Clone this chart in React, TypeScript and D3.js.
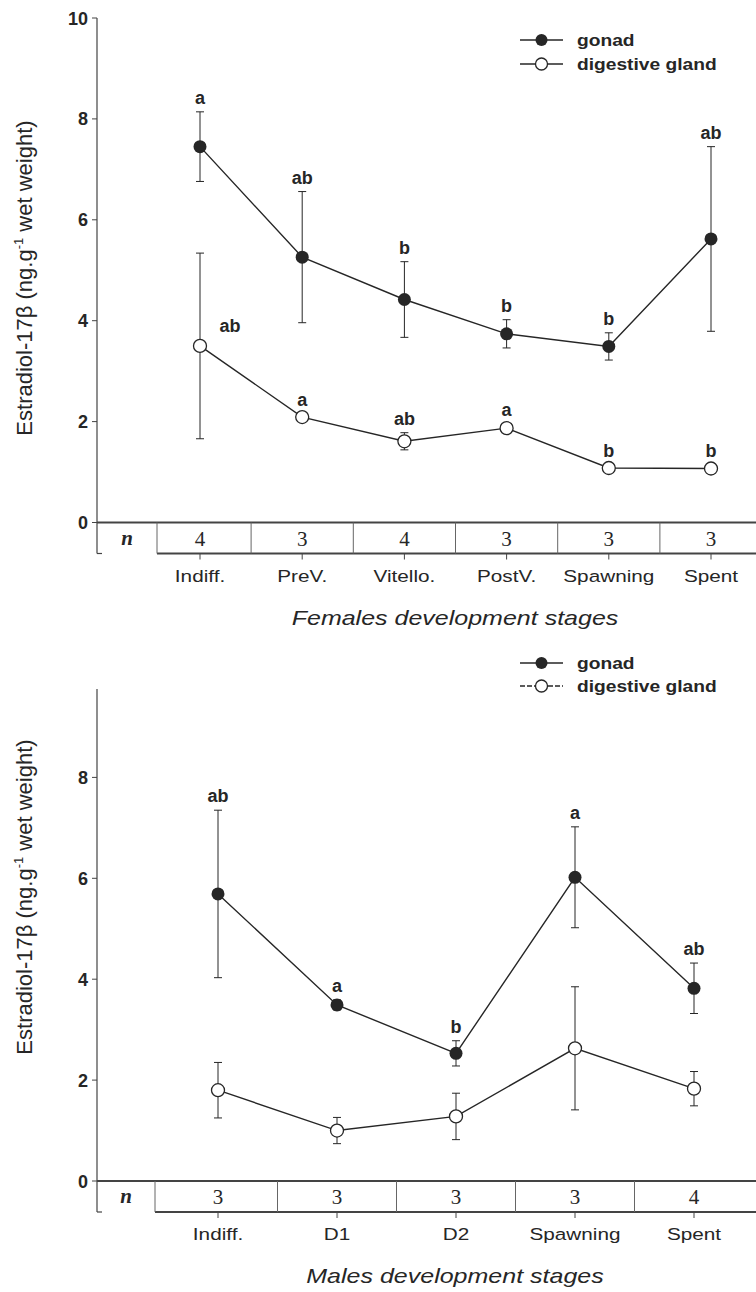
import * as d3 from "d3";

// ---- Females ----
const femaleStages = ["Indiff.", "PreV.", "Vitello.", "PostV.", "Spawning", "Spent"];
const femaleN = [4, 3, 4, 3, 3, 3];
const femaleGonad = [7.45, 5.26, 4.42, 3.74, 3.49, 5.62];
const femaleGonadErr = [0.69, 1.3, 0.75, 0.28, 0.27, 1.83];
const femaleGonadLetters = ["a", "ab", "b", "b", "b", "ab"];
const femaleGland = [3.5, 2.09, 1.61, 1.87, 1.08, 1.07];
const femaleGlandErr = [1.84, 0.07, 0.17, 0.08, 0.06, 0.06];
const femaleGlandLetters = ["ab", "a", "ab", "a", "b", "b"];
const femaleGlandLetterSide = ["right", "above", "above", "above", "above", "above"];

// ---- Males ----
const maleStages = ["Indiff.", "D1", "D2", "Spawning", "Spent"];
const maleN = [3, 3, 3, 3, 4];
const maleGonad = [5.69, 3.49, 2.53, 6.02, 3.82];
const maleGonadErr = [1.66, 0.1, 0.25, 1.0, 0.5];
const maleGonadLetters = ["ab", "a", "b", "a", "ab"];
const maleGland = [1.8, 1.0, 1.28, 2.63, 1.83];
const maleGlandErr = [0.55, 0.26, 0.46, 1.22, 0.34];
const maleGlandLetters = ["", "", "", "", ""];
const maleGlandLetterSide = ["above", "above", "above", "above", "above"];

const femaleTicks = [0, 2, 4, 6, 8, 10];
const maleTicks = [0, 2, 4, 6, 8];

const INK = "#262626";
const SANS = "'Liberation Sans', Arial, sans-serif";
const SERIF = "'Liberation Serif', 'Times New Roman', serif";
const W = 756;
const H = 1292;
const AXIS_X = 97;
const TABLE_H = 31;

function SText({ x, y, sx = 1, size, weight = "normal", italic = false, anchor = "middle", family = SANS, children }: any) {
  return (
    <text
      transform={`translate(${x},${y}) scale(${sx},1)`}
      textAnchor={anchor}
      fontSize={size}
      fontWeight={weight}
      fontStyle={italic ? "italic" : "normal"}
      fontFamily={family}
      fill={INK}
    >
      {children}
    </text>
  );
}

function Panel(p: any) {
  const { stages, nVals, gonad, gonadErr, gonadLetters, gland, glandErr, glandLetters, glandSide,
    title, y0, axisTop, ticks, xFirst, xLast, nEdge, legendY, ylabelY, dashedLegend } = p;

  const x = d3.scalePoint<string>().domain(stages).range([xFirst, xLast]);
  const y = d3.scaleLinear().domain([0, 10]).range([y0, y0 - 504.5]);
  const line = d3
    .line<number>()
    .x((_, i) => x(stages[i]) as number)
    .y((d) => y(d));

  const tableBottom = y0 + TABLE_H;
  const xs = stages.map((s: string) => x(s) as number);
  const dividers = [nEdge, ...xs.slice(1).map((v: number, i: number) => (v + xs[i]) / 2)];

  const errBars = (vals: number[], errs: number[]) =>
    vals.map((v, i) => {
      const cx = xs[i];
      const t = y(v + errs[i]);
      const b = y(v - errs[i]);
      return (
        <g key={i} stroke={INK} strokeWidth={1}>
          <line x1={cx} x2={cx} y1={t} y2={b} />
          <line x1={cx - 4} x2={cx + 4} y1={t} y2={t} />
          <line x1={cx - 4} x2={cx + 4} y1={b} y2={b} />
        </g>
      );
    });

  return (
    <g>
      {/* y axis */}
      <line x1={AXIS_X} x2={AXIS_X} y1={y(axisTop)} y2={tableBottom} stroke="#444" strokeWidth={1.2} />
      <line x1={AXIS_X} x2={AXIS_X + 5} y1={tableBottom} y2={tableBottom} stroke="#444" strokeWidth={1.2} />
      {ticks.map((t: number) => (
        <g key={t}>
          <line x1={AXIS_X - 5} x2={AXIS_X} y1={y(t)} y2={y(t)} stroke="#444" strokeWidth={1} />
          <SText x={88} y={y(t) + 6.5} size={18} weight="bold" anchor="end">{t}</SText>
        </g>
      ))}
      <text
        transform={`translate(32,${ylabelY}) rotate(-90)`}
        textAnchor="middle"
        fontSize={22}
        fontFamily={SANS}
        fill={INK}
      >
        Estradiol-17β (ng.g<tspan dy={-9} fontSize={13}>-1</tspan>
        <tspan dy={9}> wet weight)</tspan>
      </text>

      {/* n table */}
      <line x1={AXIS_X} x2={W} y1={y0} y2={y0} stroke="#444" strokeWidth={2} />
      <line x1={nEdge} x2={W} y1={tableBottom} y2={tableBottom} stroke="#444" strokeWidth={1.8} />
      {dividers.map((d: number, i: number) => (
        <line key={i} x1={d} x2={d} y1={y0} y2={tableBottom} stroke="#666" strokeWidth={1} />
      ))}
      <SText x={(AXIS_X + nEdge) / 2} y={y0 + 22} size={21} weight="bold" italic family={SERIF}>n</SText>
      {nVals.map((n: number, i: number) => (
        <SText key={i} x={xs[i]} y={y0 + 23} size={21} family={SERIF}>{n}</SText>
      ))}
      {xs.map((cx: number, i: number) => (
        <g key={i}>
          <line x1={cx} x2={cx} y1={tableBottom} y2={tableBottom + 6} stroke="#444" strokeWidth={1} />
          <SText x={cx} y={tableBottom + 28} sx={1.22} size={17}>{stages[i]}</SText>
        </g>
      ))}
      <SText x={455} y={tableBottom + 71} sx={1.22} size={20.5} italic>{title}</SText>

      {/* series */}
      <path d={line(gonad) as string} fill="none" stroke={INK} strokeWidth={1.4} />
      <path d={line(gland) as string} fill="none" stroke={INK} strokeWidth={1.4} />
      {errBars(gonad, gonadErr)}
      {errBars(gland, glandErr)}
      {gonad.map((v: number, i: number) => (
        <circle key={i} cx={xs[i]} cy={y(v)} r={6.5} fill={INK} />
      ))}
      {gland.map((v: number, i: number) => (
        <circle key={i} cx={xs[i]} cy={y(v)} r={6.5} fill="#fff" stroke={INK} strokeWidth={1.3} />
      ))}
      {gonadLetters.map((l: string, i: number) => (
        <SText key={i} x={xs[i]} y={y(gonad[i] + gonadErr[i]) - 8} size={18} weight="bold">{l}</SText>
      ))}
      {glandLetters.map((l: string, i: number) =>
        glandSide[i] === "right" ? (
          <SText key={i} x={xs[i] + 30} y={y(gland[i]) - 14} size={18} weight="bold">{l}</SText>
        ) : (
          <SText key={i} x={xs[i]} y={y(gland[i] + glandErr[i]) - 8} size={18} weight="bold">{l}</SText>
        )
      )}

      {/* legend */}
      <line x1={520} x2={563} y1={legendY[0]} y2={legendY[0]} stroke={INK} strokeWidth={1.4} />
      <circle cx={541.5} cy={legendY[0]} r={6} fill={INK} />
      <SText x={577} y={legendY[0] + 5.5} sx={1.2} size={16} weight="bold" anchor="start">gonad</SText>
      <line x1={520} x2={563} y1={legendY[1]} y2={legendY[1]} stroke={INK} strokeWidth={1.4}
        strokeDasharray={dashedLegend ? "5,2" : undefined} />
      <circle cx={541.5} cy={legendY[1]} r={6} fill="#fff" stroke={INK} strokeWidth={1.3} />
      <SText x={577} y={legendY[1] + 5.5} sx={1.2} size={16} weight="bold" anchor="start">digestive gland</SText>
    </g>
  );
}

export default function App() {
  return (
    <svg width={W} height={H} style={{ position: "absolute", left: 0, top: 0, background: "#fff" }}>
      <rect width={W} height={H} fill="#fff" />
      <Panel
        stages={femaleStages}
        nVals={femaleN}
        gonad={femaleGonad}
        gonadErr={femaleGonadErr}
        gonadLetters={femaleGonadLetters}
        gland={femaleGland}
        glandErr={femaleGlandErr}
        glandLetters={femaleGlandLetters}
        glandSide={femaleGlandLetterSide}
        title="Females development stages"
        y0={522.5}
        axisTop={10}
        ticks={femaleTicks}
        xFirst={200}
        xLast={711}
        nEdge={157}
        legendY={[40, 64]}
        ylabelY={278}
        dashedLegend={false}
      />
      <Panel
        stages={maleStages}
        nVals={maleN}
        gonad={maleGonad}
        gonadErr={maleGonadErr}
        gonadLetters={maleGonadLetters}
        gland={maleGland}
        glandErr={maleGlandErr}
        glandLetters={maleGlandLetters}
        glandSide={maleGlandLetterSide}
        title="Males development stages"
        y0={1181}
        axisTop={9.75}
        ticks={maleTicks}
        xFirst={218}
        xLast={694}
        nEdge={155}
        legendY={[663, 686]}
        ylabelY={897}
        dashedLegend={true}
      />
    </svg>
  );
}
